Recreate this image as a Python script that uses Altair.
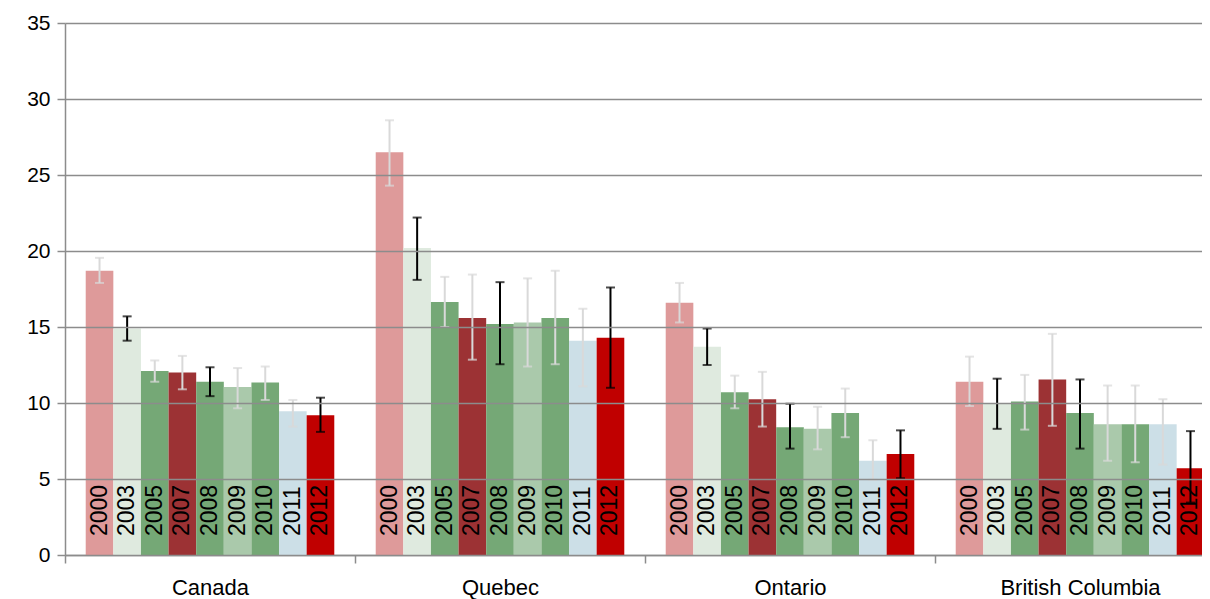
import altair as alt
import pandas as pd

regions = ["Canada", "Quebec", "Ontario", "British Columbia"]
years = ["2000", "2003", "2005", "2007", "2008", "2009", "2010", "2011", "2012"]
bar_colors = ["#DE9A9A", "#DFEADF", "#75A876", "#9C3234", "#75A876", "#AAC9AB", "#75A876", "#CCDFE7", "#C00000"]
err_colors = ["#D9D9D9", "#000000", "#D9D9D9", "#D9D9D9", "#000000", "#D9D9D9", "#D9D9D9", "#D9D9D9", "#000000"]

canada_val = [18.7, 14.9, 12.1, 12.0, 11.4, 11.05, 11.35, 9.45, 9.2]
canada_lo = [17.9, 14.1, 11.4, 10.9, 10.45, 9.65, 10.2, 8.45, 8.1]
canada_hi = [19.55, 15.7, 12.8, 13.1, 12.35, 12.3, 12.4, 10.2, 10.35]

quebec_val = [26.5, 20.2, 16.65, 15.6, 15.2, 15.3, 15.6, 14.1, 14.3]
quebec_lo = [24.3, 18.1, 15.0, 12.85, 12.55, 12.4, 12.55, 11.1, 11.0]
quebec_hi = [28.6, 22.2, 18.3, 18.45, 17.95, 18.2, 18.7, 16.2, 17.6]

ontario_val = [16.6, 13.7, 10.7, 10.25, 8.4, 8.3, 9.35, 6.2, 6.65]
ontario_lo = [15.3, 12.5, 9.65, 8.45, 7.0, 6.95, 7.75, 4.95, 5.05]
ontario_hi = [17.9, 14.9, 11.8, 12.05, 9.95, 9.75, 10.95, 7.55, 8.2]

bc_val = [11.4, 10.0, 10.1, 11.55, 9.35, 8.6, 8.6, 8.6, 5.7]
bc_lo = [9.8, 8.3, 8.25, 8.5, 7.0, 6.2, 6.1, 5.95, 3.45]
bc_hi = [13.05, 11.6, 11.85, 14.55, 11.55, 11.15, 11.15, 10.25, 8.15]

series = [
    (canada_val, canada_lo, canada_hi),
    (quebec_val, quebec_lo, quebec_hi),
    (ontario_val, ontario_lo, ontario_hi),
    (bc_val, bc_lo, bc_hi),
]

rows = []
for region, (vals, los, his) in zip(regions, series):
    for i, yr in enumerate(years):
        rows.append({
            "region": region, "year": yr, "value": vals[i],
            "lo": los[i], "hi": his[i], "ec": err_colors[i], "zero": 0,
        })
df = pd.DataFrame(rows)

FONT = "Liberation Sans"
GRID = "#8C8C8C"

x = alt.X(
    "region:N", sort=regions,
    scale=alt.Scale(domain=regions, range=[0, 1160], paddingInner=0, paddingOuter=0),
    axis=alt.Axis(title=None, labelAngle=0, tickBand="extent", grid=False,
                  domainColor=GRID, domainWidth=1.5, tickColor=GRID, tickWidth=1.5,
                  tickSize=8, labelFontSize=22, labelFont=FONT, labelColor="#000000",
                  labelPadding=14),
)
xo = alt.XOffset("year:N", sort=years, scale=alt.Scale(domain=years, paddingOuter=0.75, paddingInner=0))
yscale = alt.Scale(domain=[0, 35], nice=False)

base = alt.Chart(df)

bars = base.mark_bar().encode(
    x=x, xOffset=xo,
    y=alt.Y("value:Q", scale=yscale,
            axis=alt.Axis(title=None, values=[0, 5, 10, 15, 20, 25, 30, 35],
                          gridColor=GRID, gridWidth=1.5, domainColor=GRID, domainWidth=1.5,
                          tickColor=GRID, tickWidth=1.5, tickSize=8, labelFontSize=21,
                          labelFont=FONT, labelColor="#000000", labelPadding=7, zindex=1)),
    color=alt.Color("year:N", sort=years, scale=alt.Scale(domain=years, range=bar_colors), legend=None),
)

rules = base.mark_rule(strokeWidth=2).encode(
    x=x, xOffset=xo,
    y=alt.Y("lo:Q", scale=yscale), y2="hi:Q",
    color=alt.Color("ec:N", scale=None),
)
cap_lo = base.mark_tick(orient="horizontal", size=9, thickness=2).encode(
    x=x, xOffset=xo, y=alt.Y("lo:Q", scale=yscale), color=alt.Color("ec:N", scale=None),
)
cap_hi = base.mark_tick(orient="horizontal", size=9, thickness=2).encode(
    x=x, xOffset=xo, y=alt.Y("hi:Q", scale=yscale), color=alt.Color("ec:N", scale=None),
)

labels = base.mark_text(angle=270, align="left", baseline="middle", dx=19,
                        fontSize=23, font=FONT, color="#000000").encode(
    x=x, xOffset=xo, y=alt.Y("zero:Q", scale=yscale), text="year:N",
)

chart = alt.layer(bars, rules, cap_lo, cap_hi, labels).properties(
    width=1137, height=532,
    autosize=alt.AutoSizeParams(type="none"),
    padding={"left": 57, "top": 15, "right": 0, "bottom": 46},
).configure_view(stroke=None)

chart.save("out.html", embed_options={"renderer": "svg", "actions": False})
